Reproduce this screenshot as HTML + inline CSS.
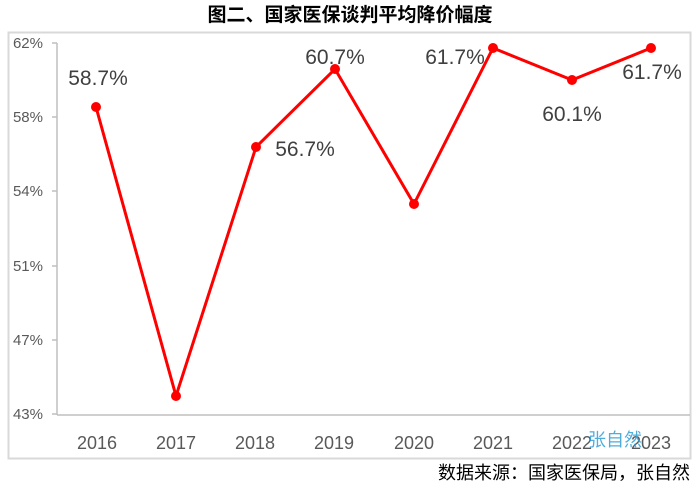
<!DOCTYPE html>
<html><head><meta charset="utf-8"><style>
body{margin:0;background:#fff;width:700px;height:493px;overflow:hidden}
text{font-family:"Liberation Sans","Noto Sans CJK SC",sans-serif}
</style></head><body>
<svg width="700" height="493" xmlns="http://www.w3.org/2000/svg">
<text x="350" y="21" text-anchor="middle" font-size="19" font-weight="bold" fill="#000">图二、国家医保谈判平均降价幅度</text>
<rect x="8.5" y="32.5" width="682" height="426" fill="none" stroke="#d9d9d9" stroke-width="2"/>
<g stroke="#bfbfbf" stroke-width="1.5">
<line x1="57" y1="43" x2="57" y2="415"/>
<line x1="57" y1="415" x2="690" y2="415"/>
<line x1="52" y1="43" x2="57" y2="43"/><line x1="52" y1="117" x2="57" y2="117"/>
<line x1="52" y1="191" x2="57" y2="191"/><line x1="52" y1="266" x2="57" y2="266"/>
<line x1="52" y1="340" x2="57" y2="340"/><line x1="52" y1="414" x2="57" y2="414"/>
</g>
<g font-size="15" fill="#595959" text-anchor="end">
<text x="43" y="48">62%</text><text x="43" y="122">58%</text><text x="43" y="196">54%</text>
<text x="43" y="271">51%</text><text x="43" y="345">47%</text><text x="43" y="419">43%</text>
</g>
<g font-size="18" fill="#595959" text-anchor="middle">
<text x="97" y="449">2016</text><text x="176" y="449">2017</text><text x="255" y="449">2018</text>
<text x="334" y="449">2019</text><text x="414" y="449">2020</text><text x="493" y="449">2021</text>
<text x="572" y="449">2022</text><text x="651" y="449">2023</text>
</g>
<polyline fill="none" stroke="#ff0000" stroke-width="3" points="96,107 176,396 256,147 335,69 414,204 493,48 572,80 651,48"/>
<g fill="#ff0000">
<circle cx="96" cy="107" r="5"/><circle cx="176" cy="396" r="5"/><circle cx="256" cy="147" r="5"/>
<circle cx="335" cy="69" r="5"/><circle cx="414" cy="204" r="5"/><circle cx="493" cy="48" r="5"/>
<circle cx="572" cy="80" r="5"/><circle cx="651" cy="48" r="5"/>
</g>
<g font-size="21" fill="#404040" text-anchor="middle">
<text x="98" y="85">58.7%</text><text x="305" y="156">56.7%</text><text x="335" y="64">60.7%</text>
<text x="455" y="64">61.7%</text><text x="572" y="121">60.1%</text><text x="652" y="79">61.7%</text>
</g>
<text x="615" y="446" text-anchor="middle" font-size="18" fill="#2e9fd8" opacity="0.85">张自然</text>
<text x="690" y="479" text-anchor="end" font-size="18" fill="#000">数据来源：国家医保局，张自然</text>
</svg>
</body></html>
